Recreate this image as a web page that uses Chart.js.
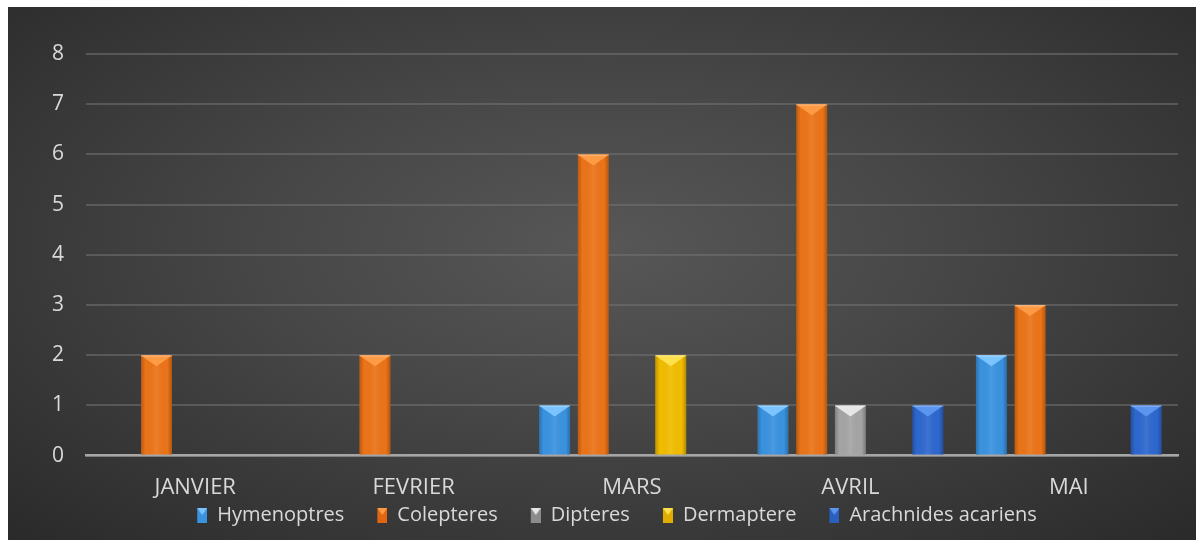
<!DOCTYPE html>
<html>
<head>
<meta charset="utf-8">
<script src="https://cdn.jsdelivr.net/npm/chart.js@4"></script>
<style>
  html, body { margin: 0; padding: 0; background: #fff; }
  #wrap {
    position: absolute; left: 8px; top: 7px; width: 1188px; height: 533px;
    background: radial-gradient(ellipse at 50% 45%, #575757 0%, #474747 40%, #2a2a2a 100%);
  }
</style>
</head>
<body>
<div id="wrap"><canvas id="myChart" width="1188" height="533"></canvas></div>
<script>
var months = ['JANVIER', 'FEVRIER', 'MARS', 'AVRIL', 'MAI'];
var hymenoptres = [0, 0, 1, 1, 2];
var colepteres = [2, 2, 6, 7, 3];
var dipteres = [0, 0, 0, 1, 0];
var dermaptere = [0, 0, 2, 0, 0];
var arachnides = [0, 0, 0, 1, 1];
var yTicks = [0, 1, 2, 3, 4, 5, 6, 7, 8];

// little legend marker: empty space on the left, bevelled box on the right
function marker(base, top) {
    var c = document.createElement('canvas');
    c.width = 36; c.height = 16;
    var g = c.getContext('2d');
    g.fillStyle = base;
    g.fillRect(26, 1, 10, 15);
    g.fillStyle = top;
    g.beginPath();
    g.moveTo(26, 1); g.lineTo(36, 1); g.lineTo(31, 8);
    g.closePath(); g.fill();
    return c;
}

// shading + bevel on top of each bar
var bevel = {
    id: 'bevel',
    afterDatasetsDraw: function(chart) {
        var ctx = chart.ctx;
        chart.data.datasets.forEach(function(ds, i) {
            var meta = chart.getDatasetMeta(i);
            meta.data.forEach(function(bar, j) {
                if (!ds.data[j]) return;
                var l = bar.x - bar.width / 2, r = bar.x + bar.width / 2, t = bar.y, b = 9;
                ctx.save();
                var g = ctx.createLinearGradient(l, 0, r, 0);
                g.addColorStop(0, 'rgba(0,0,0,0.22)');
                g.addColorStop(0.15, 'rgba(0,0,0,0)');
                g.addColorStop(0.5, 'rgba(255,255,255,0.08)');
                g.addColorStop(0.85, 'rgba(0,0,0,0)');
                g.addColorStop(1, 'rgba(0,0,0,0.25)');
                ctx.fillStyle = g;
                ctx.fillRect(l, t, r - l, bar.base - t);
                ctx.fillStyle = ds.topColor;
                ctx.beginPath();
                ctx.moveTo(l, t); ctx.lineTo(r, t); ctx.lineTo(r - 4, t + 3); ctx.lineTo(bar.x, t + b + 2); ctx.lineTo(l + 4, t + 3);
                ctx.closePath(); ctx.fill();
                ctx.fillStyle = 'rgba(255,255,255,0.25)';
                ctx.fillRect(l, t, r - l, 1.5);
                ctx.restore();
            });
        });
    }
};

var ctx = document.getElementById('myChart').getContext('2d');
var myChart = new Chart(ctx, {
    type: 'bar',
    data: {
        labels: months,
        datasets: [
            { label: 'Hymenoptres', data: hymenoptres, backgroundColor: '#3a93e0', topColor: '#7cc4ff', pointStyle: marker('#3a93e0', '#7cc4ff') },
            { label: 'Colepteres', data: colepteres, backgroundColor: '#ec7418', topColor: '#ff9a45', pointStyle: marker('#e0660f', '#ff9a45') },
            { label: 'Dipteres', data: dipteres, backgroundColor: '#a5a5a5', topColor: '#e6e6e6', pointStyle: marker('#8c8c8c', '#e6e6e6') },
            { label: 'Dermaptere', data: dermaptere, backgroundColor: '#f2bd00', topColor: '#ffe04d', pointStyle: marker('#e0ae00', '#ffe04d') },
            { label: 'Arachnides acariens', data: arachnides, backgroundColor: '#2e68cf', topColor: '#5c95f0', pointStyle: marker('#2a5fbf', '#5c95f0') }
        ]
    },
    options: {
        responsive: false,
        animation: false,
        maintainAspectRatio: false,
        layout: { padding: { top: 47, left: 22, right: 18, bottom: 5 } },
        datasets: { bar: { categoryPercentage: 0.886, barPercentage: 0.8 } },
        plugins: {
            legend: {
                position: 'bottom',
                labels: {
                    color: '#d9d9d9',
                    font: { family: 'Open Sans', size: 20 },
                    usePointStyle: true,
                    pointStyleWidth: 36,
                    boxHeight: 16,
                    padding: 7
                }
            },
            tooltip: { enabled: false }
        },
        scales: {
            x: {
                grid: { display: false, drawTicks: false },
                border: { color: '#a6a6a6', width: 2.5 },
                ticks: { color: '#d9d9d9', font: { family: 'Open Sans', size: 22 }, padding: 19 },
                afterFit: function(scale) { scale.height -= 22; }
            },
            y: {
                min: 0,
                max: 8,
                afterBuildTicks: function(axis) { axis.ticks = yTicks.map(function(v) { return { value: v }; }); },
                grid: { color: 'rgba(115,115,115,0.55)', lineWidth: 2, drawTicks: false },
                border: { display: false },
                ticks: { color: '#d9d9d9', font: { family: 'Open Sans', size: 21 }, padding: 22 }
            }
        }
    },
    plugins: [bevel]
});
</script>
</body>
</html>
